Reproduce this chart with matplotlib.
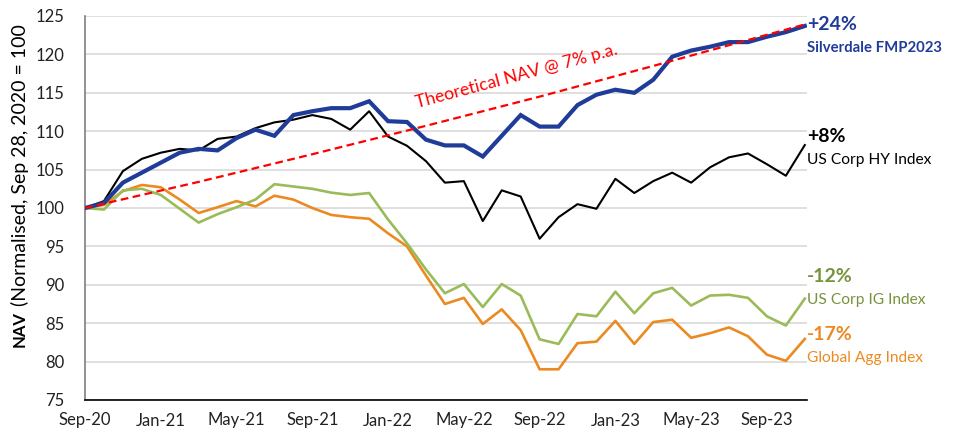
import numpy as np
import matplotlib
matplotlib.use("Agg")
import matplotlib.pyplot as plt

plt.rcParams['font.family'] = ['Lato', 'DejaVu Sans']

# monthly observations, Sep-20 .. Nov-23
months = np.arange(39)
tick_labels = ['Sep-20', 'Jan-21', 'May-21', 'Sep-21', 'Jan-22', 'May-22',
               'Sep-22', 'Jan-23', 'May-23', 'Sep-23']

silverdale = [100, 100.65, 103.3, 104.6, 105.9, 107.2, 107.7, 107.5, 109.1, 110.2,
              109.4, 112.1, 112.6, 113.0, 113.0, 113.9, 111.3, 111.2, 108.9, 108.15,
              108.15, 106.7, 109.4, 112.1, 110.6, 110.6, 113.4, 114.75, 115.4, 115.0,
              116.7, 119.7, 120.5, 121.0, 121.6, 121.6, 122.3, 122.9, 123.7]
us_hy = [100, 100.9, 104.8, 106.4, 107.2, 107.7, 107.5, 109.0, 109.3, 110.4,
         111.15, 111.5, 112.1, 111.6, 110.2, 112.6, 109.3, 108.1, 106.1, 103.3,
         103.5, 98.3, 102.3, 101.5, 96.0, 98.8, 100.5, 99.9, 103.8, 101.95,
         103.5, 104.6, 103.3, 105.3, 106.6, 107.1, 105.7, 104.2, 108.2]
us_ig = [100, 99.8, 102.3, 102.5, 101.7, 99.9, 98.1, 99.2, 100.1, 101.1,
         103.1, 102.8, 102.5, 102.0, 101.7, 101.95, 98.5, 95.4, 92.0, 88.9,
         90.1, 87.1, 90.1, 88.6, 82.9, 82.3, 86.2, 85.9, 89.1, 86.3,
         88.9, 89.6, 87.3, 88.6, 88.7, 88.3, 85.9, 84.7, 88.2]
global_agg = [100, 100.4, 102.2, 103.0, 102.7, 101.1, 99.35, 100.1, 100.9, 100.2,
              101.6, 101.1, 100.0, 99.1, 98.8, 98.6, 96.7, 95.0, 91.2, 87.5,
              88.3, 84.9, 86.8, 84.1, 79.0, 79.0, 82.4, 82.6, 85.3, 82.3,
              85.15, 85.45, 83.1, 83.7, 84.45, 83.3, 80.9, 80.1, 82.95]
theo_months = [0, 6, 12, 18, 24, 30, 38]
theo_nav = [100, 103.4, 107.0, 110.7, 114.5, 118.5, 123.9]

end_labels = [('+24%', 'Silverdale FMP2023'), ('+8%', 'US Corp HY Index'),
              ('-12%', 'US Corp IG Index'), ('-17%', 'Global Agg Index')]

BLUE = '#1F3C99'
GREEN = '#9BBB59'
GREEN_TXT = '#76933C'
ORANGE = '#EC8A22'

fig = plt.figure(figsize=(9.6, 4.32), dpi=100)
ax = fig.add_axes([85 / 960, 1 - 400 / 432, (806.7 - 85) / 960, (400 - 16) / 432])

ax.plot(months, global_agg, color=ORANGE, lw=1.9, zorder=3)
ax.plot(months, us_ig, color=GREEN, lw=1.9, zorder=3)
ax.plot(months, us_hy, color='black', lw=1.5, zorder=4)
ax.plot(months, silverdale, color=BLUE, lw=3.0, zorder=5, solid_joinstyle='miter')
ax.plot(theo_months, theo_nav, color='red', lw=1.6, ls=(0, (3.5, 2)), zorder=6)

ax.text(22.8, 117.1, 'Theoretical NAV @ 7% p.a.', color='red', fontsize=12.7,
        rotation=15, ha='center', va='center', rotation_mode='anchor')

ax.set_xlim(0, 38.1)
ax.set_ylim(75, 125)
ax.set_yticks(np.arange(75, 126, 5))
ax.set_xticks(np.arange(0, 37, 4))
ax.set_xticklabels(tick_labels)
ax.tick_params(axis='both', length=0, labelsize=12, colors='#222222')
ax.tick_params(axis='y', pad=15)
ax.tick_params(axis='x', pad=9)
ax.grid(axis='y', color='#D9D9D9', lw=1.2)
ax.set_axisbelow(True)
for s in ['top', 'right']:
    ax.spines[s].set_visible(False)
ax.spines['left'].set_color('#7F7F7F')
ax.spines['bottom'].set_color('black')
ax.spines['left'].set_linewidth(1.2)
ax.spines['bottom'].set_linewidth(1.2)

# end-of-line labels
colors = [BLUE, 'black', GREEN_TXT, ORANGE]
tops = [25, 136.7, 276.7, 335]
subs = [48.3, 160, 300, 357.7]
for (pct, name), c, yt, ys in zip(end_labels, colors, tops, subs):
    fig.text(807 / 960, 1 - yt / 432, pct, color=c, fontsize=14, fontweight='bold',
             ha='left', va='center')
    fig.text(807 / 960, 1 - ys / 432, name, color=c,
             fontsize=10.7 if c == BLUE else 11.2,
             fontweight='bold' if c == BLUE else 'normal',
             ha='left', va='center')

# y axis title with bold "NAV"
fig.text(20 / 960, 1 - 347 / 432, 'NAV', rotation=90, fontsize=12, fontweight='bold',
         ha='center', va='bottom', color='black')
fig.text(20 / 960, 1 - 306 / 432, '(Normalised, Sep 28, 2020 = 100', rotation=90,
         fontsize=14, ha='center', va='bottom', color='black')

fig.savefig('out.png', dpi=100)
